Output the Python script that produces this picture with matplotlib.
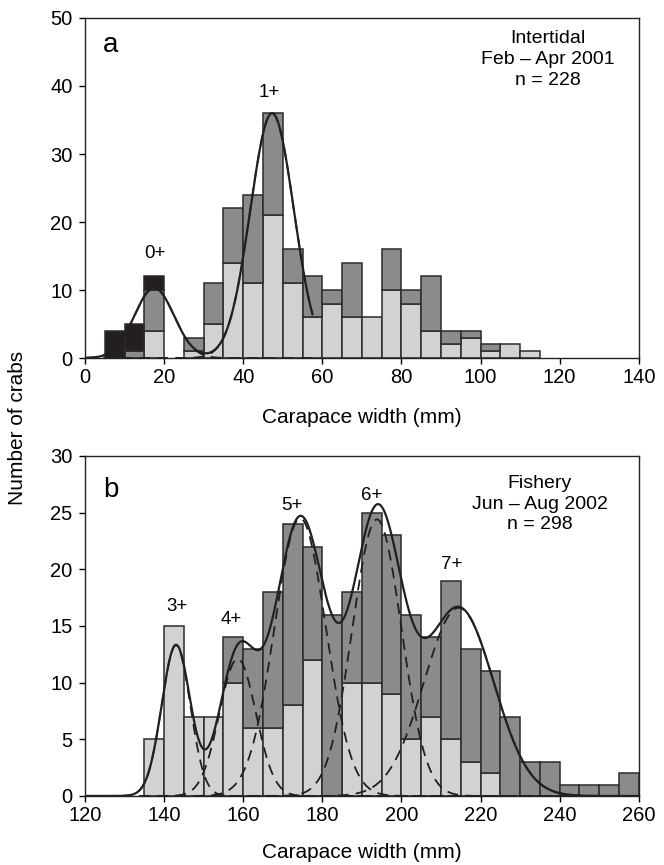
import numpy as np
import matplotlib
matplotlib.use("Agg")
import matplotlib.pyplot as plt

plt.rcParams["font.family"] = ["Liberation Sans", "DejaVu Sans"]

# panel a: intertidal, 5 mm bins (lower edge)
a_bins = [5, 10, 15, 20, 25, 30, 35, 40, 45, 50, 55, 60, 65, 70, 75, 80, 85, 90, 95, 100, 105, 110]
a_light = [0, 0, 4, 0, 1, 5, 14, 11, 21, 11, 6, 8, 6, 6, 10, 8, 4, 2, 3, 1, 2, 1]
a_dark = [0, 1, 6, 0, 2, 6, 8, 13, 15, 5, 6, 2, 8, 0, 6, 2, 8, 2, 1, 1, 0, 0]
a_black = [4, 4, 2, 0, 0, 0, 0, 0, 0, 0, 0, 0, 0, 0, 0, 0, 0, 0, 0, 0, 0, 0]

# fitted cohorts, panel a (0+, 1+)
a_means = [17.5, 47.3]
a_sds = [5.0, 5.5]
a_peaks = [10.3, 36.0]
a_ages = ["0+", "1+"]
a_label_x = [17.6, 46.7]
a_label_y = [14.7, 38.4]

# panel b: fishery
b_bins = [135, 140, 145, 150, 155, 160, 165, 170, 175, 180, 185, 190, 195,
          200, 205, 210, 215, 220, 225, 230, 235, 240, 245, 250, 255]
b_light = [5, 15, 7, 7, 10, 6, 6, 8, 12, 0, 10, 10, 9, 5, 7, 5, 3, 2, 0, 0, 0, 0, 0, 0, 0]
b_dark = [0, 0, 0, 0, 4, 7, 12, 16, 10, 16, 8, 15, 14, 11, 7, 14, 10, 9, 7, 3, 3, 1, 1, 1, 2]

# fitted cohorts, panel b (3+ .. 7+)
b_means = [143.0, 158.6, 174.4, 193.8, 214.5]
b_sds = [3.6, 4.6, 6.5, 6.2, 8.8]
b_peaks = [13.3, 12.1, 24.5, 24.4, 16.6]
b_ages = ["3+", "4+", "5+", "6+", "7+"]
b_label_x = [143.2, 157.1, 172.3, 192.6, 212.6]
b_label_y = [16.3, 15.2, 25.2, 26.1, 20.0]

LIGHT = "#d1d2d4"
DARK = "#8a8b8d"
BLACK = "#231f20"
EDGE = "#2b2b2b"


def comps(x, means, sds, peaks):
    return [p * np.exp(-(x - m) ** 2 / (2 * s ** 2)) for m, s, p in zip(means, sds, peaks)]


def draw_bars(ax, bins, layers, colors):
    bottom = np.zeros(len(bins))
    for vals, col in zip(layers, colors):
        vals = np.array(vals, dtype=float)
        mask = vals > 0
        ax.bar(np.array(bins)[mask], vals[mask], width=5, bottom=bottom[mask], align="edge",
               color=col, edgecolor=EDGE, linewidth=1.1, zorder=2)
        bottom = bottom + vals


def style(ax, xlim, ylim, xticks, yticks, pad):
    ax.set_xlim(*xlim)
    ax.set_ylim(*ylim)
    ax.set_xticks(xticks)
    ax.set_yticks(yticks)
    ax.tick_params(direction="out", length=4, width=1, labelsize=14.5)
    ax.tick_params(axis="x", pad=3)
    ax.tick_params(axis="y", pad=5)
    for sp in ax.spines.values():
        sp.set_linewidth(1.0)
        sp.set_color("#222222")
    ax.set_xlabel("Carapace width (mm)", fontsize=15, labelpad=pad)


fig = plt.figure(figsize=(6.64, 8.65), dpi=100)
ax1 = fig.add_axes([0.128, 0.5861, 0.834, 0.3931])
ax2 = fig.add_axes([0.128, 0.0798, 0.834, 0.3931])

# panel a
draw_bars(ax1, a_bins, [a_light, a_dark, a_black], [LIGHT, DARK, BLACK])
xa = np.linspace(0, 57.5, 400)
ca = comps(xa, a_means, a_sds, a_peaks)
for c in ca:
    ax1.plot(xa, c, color=BLACK, lw=1.3, ls=(0, (6, 4)), zorder=3)
ax1.plot(xa, np.sum(ca, axis=0), color=BLACK, lw=1.6, zorder=4)
for lab, lx, ly in zip(a_ages, a_label_x, a_label_y):
    ax1.text(lx, ly, lab, ha="center", va="baseline", fontsize=13.5)
style(ax1, (0, 140), (0, 50), range(0, 141, 20), range(0, 51, 10), 15)
ax1.text(0.032, 0.90, "a", transform=ax1.transAxes, fontsize=20, va="baseline")
ax1.text(0.836, 0.965, "Intertidal\nFeb – Apr 2001\nn = 228", transform=ax1.transAxes,
         ha="center", va="top", fontsize=14, linespacing=1.3)

# panel b
draw_bars(ax2, b_bins, [b_light, b_dark], [LIGHT, DARK])
xb = np.linspace(120, 260, 800)
cb = comps(xb, b_means, b_sds, b_peaks)
for c in cb:
    ax2.plot(xb, c, color=BLACK, lw=1.3, ls=(0, (6, 4)), zorder=3)
ax2.plot(xb, np.sum(cb, axis=0), color=BLACK, lw=1.6, zorder=4)
for lab, lx, ly in zip(b_ages, b_label_x, b_label_y):
    ax2.text(lx, ly, lab, ha="center", va="baseline", fontsize=13.5)
style(ax2, (120, 260), (0, 30), range(120, 261, 20), range(0, 31, 5), 13)
ax2.text(0.032, 0.88, "b", transform=ax2.transAxes, fontsize=20, va="baseline")
ax2.text(0.821, 0.945, "Fishery\nJun – Aug 2002\nn = 298", transform=ax2.transAxes,
         ha="center", va="top", fontsize=14, linespacing=1.3)

fig.text(0.026, 0.505, "Number of crabs", rotation=90, ha="center", va="center", fontsize=15)

fig.savefig("out.png", dpi=100)
